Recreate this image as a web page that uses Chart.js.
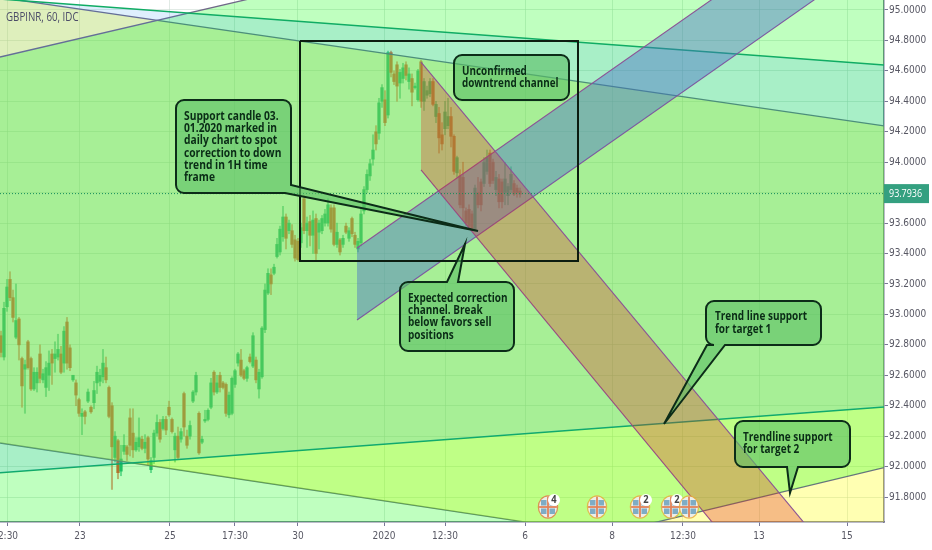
<!DOCTYPE html>
<html>
<head>
<meta charset="utf-8">
<title>GBPINR, 60, IDC</title>
<script src="https://cdn.jsdelivr.net/npm/chart.js@4"></script>
<style>
html, body { margin: 0; padding: 0; background: #fff; }
canvas { display: block; }
</style>
</head>
<body>
<canvas id="myChart" width="932" height="550"></canvas>
<script>
// hourly candles
const opens = [92.86,92.72,93.05,93.23,93.11,92.85,92.97,92.71,92.64,92.82,92.71,92.51,92.55,92.74,92.57,92.52,92.60,92.74,92.71,92.72,
  92.74,92.68,92.95,92.78,92.57,92.55,92.44,92.33,92.36,92.43,92.39,92.42,92.55,92.56,92.59,92.65,92.52,92.40,92.06,92.17,
  91.97,92.10,92.13,92.32,92.22,92.11,92.13,92.18,92.12,92.19,91.98,92.06,92.22,92.29,92.25,92.31,92.39,92.31,92.11,92.20,
  92.18,92.48,92.20,92.20,92.43,92.49,92.35,92.16,92.30,92.31,92.39,92.62,92.49,92.60,92.55,92.54,92.34,92.35,92.54,92.68,
  92.70,92.63,92.58,92.72,92.66,92.70,92.51,92.59,92.90,93.14,93.26,93.27,93.38,93.41,93.51,93.64,93.55,93.55,93.49,93.48,
  93.47,93.76,93.55,93.61,93.52,93.63,93.54,93.55,93.60,93.60,93.70,93.70,93.46,93.49,93.46,93.58,93.50,93.63,93.52,93.43,
  93.47,93.68,93.82,93.91,94.02,94.20,94.19,94.40,94.41,94.31,94.72,94.58,94.64,94.52,94.55,94.64,94.53,94.55,94.49,94.41,
  94.66,94.40,94.44,94.45,94.53,94.30,94.32,94.18,94.22,94.24,94.30,94.17,93.93,93.91,93.90,93.68,93.69,93.66,93.56,93.80,
  93.87,93.86,93.94,94.06,94.00,93.82,93.89,93.87,93.80,93.78,93.82,93.86,93.83,93.81];
const highs = [92.89,93.08,93.23,93.28,93.16,93.20,92.98,92.72,92.70,92.83,92.72,92.65,92.65,92.80,92.64,92.69,92.76,92.77,92.82,92.87,
  92.79,92.92,92.98,92.80,92.60,92.57,92.45,92.38,92.37,92.51,92.40,92.56,92.66,92.64,92.77,92.72,92.53,92.42,92.23,92.18,
  92.14,92.21,92.14,92.38,92.38,92.19,92.32,92.20,92.21,92.20,92.06,92.24,92.34,92.31,92.33,92.33,92.43,92.32,92.22,92.26,
  92.25,92.49,92.24,92.30,92.50,92.62,92.36,92.20,92.37,92.38,92.58,92.63,92.60,92.62,92.56,92.55,92.49,92.59,92.64,92.75,
  92.77,92.64,92.66,92.74,92.88,92.72,92.64,92.92,93.20,93.30,93.30,93.33,93.50,93.58,93.71,93.66,93.62,93.59,93.52,93.50,
  93.60,93.78,93.64,93.65,93.68,93.66,93.62,93.65,93.69,93.76,93.72,93.72,93.60,93.50,93.52,93.60,93.57,93.64,93.54,93.50,
  93.70,93.84,93.95,94.02,94.18,94.24,94.42,94.51,94.47,94.73,94.73,94.60,94.66,94.61,94.65,94.66,94.62,94.58,94.52,94.61,
  94.67,94.55,94.50,94.55,94.55,94.40,94.36,94.26,94.40,94.42,94.36,94.18,94.04,93.95,94.00,93.70,93.72,93.68,93.85,93.90,
  93.89,94.03,94.08,94.08,94.02,93.94,93.92,93.89,94.00,93.86,93.97,93.88,93.85,93.83];
const lows = [92.72,92.70,93.02,93.09,92.95,92.84,92.70,92.39,92.35,92.64,92.50,92.50,92.49,92.55,92.55,92.46,92.50,92.54,92.62,92.70,
  92.61,92.62,92.64,92.63,92.56,92.40,92.33,92.21,92.28,92.42,92.35,92.38,92.48,92.53,92.55,92.55,92.32,91.85,92.03,91.92,
  91.94,92.08,92.04,92.07,92.06,92.10,92.10,92.11,92.09,92.01,91.96,92.02,92.20,92.16,92.24,92.21,92.33,92.22,92.03,92.05,
  92.16,92.20,92.12,92.18,92.42,92.47,92.08,92.15,92.29,92.30,92.38,92.47,92.48,92.49,92.51,92.33,92.32,92.34,92.52,92.66,
  92.59,92.57,92.56,92.68,92.65,92.55,92.45,92.58,92.88,93.13,93.13,93.26,93.37,93.39,93.48,93.43,93.53,93.44,93.35,93.35,
  93.44,93.53,93.44,93.45,93.40,93.36,93.43,93.53,93.58,93.58,93.54,93.45,93.44,93.39,93.44,93.53,93.48,93.51,93.44,93.41,
  93.45,93.66,93.80,93.88,93.98,94.08,94.15,94.36,94.24,94.29,94.56,94.51,94.40,94.42,94.52,94.54,94.48,94.37,94.48,94.40,
  94.36,94.34,94.42,94.43,94.37,94.26,94.06,94.08,94.18,94.22,94.10,93.92,93.90,93.70,93.62,93.58,93.56,93.55,93.55,93.70,
  93.68,93.84,93.92,93.84,93.86,93.78,93.70,93.70,93.72,93.72,93.80,93.78,93.77,93.77];
const closes = [92.75,93.04,93.18,93.11,92.98,92.96,92.80,92.53,92.67,92.65,92.51,92.62,92.62,92.58,92.61,92.65,92.68,92.68,92.74,92.77,
  92.62,92.89,92.68,92.65,92.60,92.47,92.35,92.35,92.33,92.49,92.36,92.50,92.62,92.60,92.68,92.57,92.33,92.13,92.20,91.96,
  92.05,92.14,92.08,92.14,92.11,92.16,92.19,92.12,92.16,92.05,92.04,92.22,92.29,92.18,92.31,92.24,92.34,92.23,92.20,92.06,
  92.23,92.26,92.14,92.27,92.49,92.60,92.09,92.18,92.31,92.37,92.55,92.49,92.55,92.52,92.52,92.35,92.47,92.58,92.63,92.74,
  92.60,92.58,92.65,92.69,92.86,92.57,92.62,92.91,93.16,93.27,93.20,93.31,93.46,93.56,93.64,93.50,93.60,93.46,93.37,93.36,
  93.57,93.55,93.60,93.52,93.62,93.40,93.60,93.63,93.66,93.72,93.56,93.46,93.54,93.41,93.50,93.54,93.55,93.53,93.46,93.48,
  93.66,93.82,93.92,93.99,94.08,94.12,94.39,94.49,94.26,94.72,94.59,94.53,94.50,94.59,94.62,94.57,94.58,94.46,94.50,94.60,
  94.40,94.53,94.47,94.53,94.38,94.38,94.16,94.12,94.33,94.30,94.17,93.94,94.03,93.72,93.70,93.60,93.58,93.57,93.83,93.72,
  93.72,94.00,94.03,93.86,93.88,93.90,93.74,93.74,93.89,93.84,93.92,93.79,93.80,93.79];

// axis ticks
const priceTicks = [91.8,92,92.2,92.4,92.6,92.8,93,93.2,93.4,93.6,93.8,94,94.2,94.4,94.6,94.8,95];
const timeTickPos = [2.33,26.33,56.33,78,99,127.67,148,174.67,203.67,227.33,252.67,282];
const timeTickLabels = ['2:30','23','25','17:30','30','2020','12:30','6','8','12:30','13','15'];

// drawn trend lines and channels, [[x,price],[x,price]]
const xLeft = -0.33, xRight = 294.33, yTop = 95.0657, yBottom = 91.6360;
const fallUpper = [[xLeft,95.082],[xRight,94.238]];
const fallLower = [[xLeft,92.155],[xRight,91.281]];
const wedgeUpper = [[xLeft,95.072],[xRight,94.639]];
const wedgeLower = [[xLeft,91.960],[xRight,92.392]];
const riseUpper = [[xLeft,94.691],[xRight,96.045]];
const riseLower = [[xLeft,90.600],[xRight,91.994]];
const corrUpper = [[118.67,93.436],[xRight,95.861]];
const corrLower = [[118.67,92.963],[xRight,95.388]];
const downUpper = [[140,94.658],[xRight,90.999]];
const downLower = [[140,93.949],[xRight,90.269]];
const boxLine = [[99.67,94.796],[192.33,94.796],[192.33,93.351],[99.67,93.351],[99.67,94.796]];
const lastPrice = 93.7936;
const priceLine = [[xLeft,lastPrice],[xRight,lastPrice]];

const toXY = pts => pts.map(p => ({x: p[0], y: p[1]}));
const idx = closes.map((c, i) => i);
const upCol = 'rgb(40,172,130)', downCol = 'rgb(235,70,60)';
const barCols = closes.map((c, i) => c >= opens[i] ? upCol : downCol);

function channel(pts, lineCol, width, fillCol, ord) {
  return {type: 'line', data: toXY(pts), borderColor: lineCol, borderWidth: width, pointRadius: 0,
    tension: 0, fill: fillCol ? '+1' : false, backgroundColor: fillCol || 'transparent', order: ord};
}

const greyLine = 'rgb(112,104,136)', greenLine = 'rgb(16,172,100)', purpleLine = 'rgb(140,84,150)';

const datasets = [
  {type: 'line', data: toXY(boxLine), borderColor: '#0c1c10', borderWidth: 2, pointRadius: 0, fill: false, order: 1},
  channel(priceLine, 'rgb(20,140,90)', 1, null, 2),
  channel(downUpper, purpleLine, 1.1, 'rgba(225,40,30,0.3)', 3),
  channel(downLower, purpleLine, 1.1, null, 3),
  channel(corrUpper, purpleLine, 1.1, 'rgba(70,110,200,0.43)', 4),
  channel(corrLower, purpleLine, 1.1, null, 4),
  channel(wedgeUpper, greenLine, 1.5, 'rgba(33,150,243,0.15)', 5),
  channel(wedgeLower, greenLine, 1.5, null, 5),
  channel(riseUpper, greyLine, 1.3, 'rgba(0,255,0,0.25)', 6),
  channel(riseLower, greyLine, 1.3, null, 6),
  channel(fallUpper, greyLine, 1.3, 'rgba(255,255,0,0.3)', 7),
  channel(fallLower, greyLine, 1.3, null, 7),
  {type: 'bar', data: idx.map(i => ({x: i, y: [Math.min(opens[i], closes[i]), Math.max(opens[i], closes[i])]})),
    backgroundColor: barCols, barThickness: 2.6, grouped: false, order: 8},
  {type: 'bar', data: idx.map(i => ({x: i, y: [lows[i], highs[i]]})),
    backgroundColor: barCols.map(c => c.replace('rgb', 'rgba').replace(')', ',0.55)')), barThickness: 1.4, grouped: false, order: 9}
];
datasets[1].borderDash = [1, 2];

// callouts, in canvas pixels
const notes = [
  {box: [176,100,291,193], tail: [[291,185],[478,231],[285,193]], side: 'corner', x: 184, y: 120, lh: 12.2, sx: 0.82,
    lines: ['Support candle 03.','01.2020 marked in','daily chart to spot','correction to down','trend in 1H time','frame']},
  {box: [454,55,569,100], x: 462, y: 75, lh: 12.4, sx: 0.79, lines: ['Unconfirmed','downtrend channel']},
  {box: [400,282,514,351], tail: [[447,282],[465,244],[458,282]], side: 'top', x: 408, y: 302, lh: 12.2, sx: 0.8,
    lines: ['Expected correction','channel. Break','below favors sell','positions']},
  {box: [706,301,821,345], tail: [[707,345],[664,424],[725,345]], side: 'bottom', x: 715, y: 320, lh: 12.6, sx: 0.8,
    lines: ['Trend line support','for target 1']},
  {box: [735,421,850,467], tail: [[787,467],[790,493],[798,467]], side: 'bottom', x: 743, y: 441, lh: 12.4, sx: 0.8,
    lines: ['Trendline support','for target 2']}
];
const flags = [
  {x: 548, y: 507, ring: 'rgba(226,120,70,0.8)', badge: '4'},
  {x: 597, y: 507, ring: 'rgba(232,170,60,0.8)'},
  {x: 640, y: 507, ring: 'rgba(232,170,60,0.8)', badge: '2'},
  {x: 671, y: 507, ring: 'rgba(232,170,60,0.8)', badge: '2'},
  {x: 689, y: 507, ring: 'rgba(232,170,60,0.8)'}
];

function notePath(c, n) {
  const [l, t, r, b] = n.box, k = 8, tl = n.tail;
  c.beginPath();
  c.moveTo(l + k, t);
  if (n.side === 'top') { c.lineTo(tl[0][0], t); c.lineTo(tl[1][0], tl[1][1]); c.lineTo(tl[2][0], t); }
  c.arcTo(r, t, r, b, k);
  if (n.side === 'corner') {
    c.lineTo(tl[0][0], tl[0][1]); c.lineTo(tl[1][0], tl[1][1]); c.lineTo(tl[2][0], tl[2][1]);
  } else {
    c.arcTo(r, b, l, b, k);
    if (n.side === 'bottom') { c.lineTo(tl[2][0], b); c.lineTo(tl[1][0], tl[1][1]); c.lineTo(tl[0][0], b); }
  }
  c.arcTo(l, b, l, t, k);
  c.arcTo(l, t, r, t, k);
  c.closePath();
}

// the reference font is narrow, squeeze the text sideways
function narrowText(c, s, x, y, sx) {
  c.save();
  c.translate(x, y);
  c.scale(sx, 1);
  c.fillText(s, 0, 0);
  c.restore();
}

function drawFlag(c, f) {
  c.save();
  c.beginPath();
  c.ellipse(f.x, f.y, 9, 10.5, 0, 0, Math.PI * 2);
  c.lineWidth = 2.5;
  c.strokeStyle = f.ring;
  c.stroke();
  c.clip();
  c.fillStyle = 'rgb(236,238,232)';
  c.fillRect(f.x - 10, f.y - 11, 20, 22);
  c.fillStyle = 'rgba(90,150,185,0.75)';
  [[-7,-7],[1.5,-7],[-7,1.5],[1.5,1.5]].forEach(q => c.fillRect(f.x + q[0], f.y + q[1], 5.5, 5.5));
  c.fillStyle = 'rgba(225,130,90,0.9)';
  c.fillRect(f.x - 10, f.y - 1, 20, 2);
  c.fillRect(f.x - 1, f.y - 11, 2, 22);
  c.restore();
  if (f.badge) {
    c.beginPath();
    c.arc(f.x + 6, f.y - 7, 6, 0, Math.PI * 2);
    c.fillStyle = '#fff';
    c.fill();
    c.fillStyle = '#444';
    c.font = 'bold 11px "Open Sans"';
    c.textAlign = 'center';
    c.textBaseline = 'middle';
    narrowText(c, f.badge, f.x + 6, f.y - 7, 0.85);
  }
}

const overlay = {
  id: 'overlay',
  afterDraw(chart) {
    const c = chart.ctx;
    c.save();
    flags.forEach(f => drawFlag(c, f));
    notes.forEach(n => {
      notePath(c, n);
      c.fillStyle = 'rgba(90,190,100,0.6)';
      c.fill();
      c.lineWidth = 2;
      c.strokeStyle = '#0c2c18';
      c.stroke();
      c.fillStyle = '#0a2c16';
      c.font = 'bold 12.5px "Open Sans"';
      c.textAlign = 'left';
      c.textBaseline = 'alphabetic';
      n.lines.forEach((s, i) => narrowText(c, s, n.x, n.y + i * n.lh, n.sx));
    });
    // title and last price tag
    c.fillStyle = 'rgb(76,76,104)';
    c.font = '12.5px "Open Sans"';
    narrowText(c, 'GBPINR, 60, IDC', 6, 21, 0.78);
    const py = chart.scales.y.getPixelForValue(lastPrice);
    c.fillStyle = 'rgb(52,160,128)';
    c.fillRect(884, py - 9.5, 45, 19);
    c.fillStyle = '#fff';
    c.font = '11.5px "Open Sans"';
    c.textBaseline = 'middle';
    narrowText(c, lastPrice.toFixed(4), 889, py + 0.5, 0.78);
    c.restore();
  }
};

function noPad(width, height) {
  return s => {
    if (width) s.width = width;
    if (height) s.height = height;
    s.paddingLeft = s.paddingRight = s.paddingTop = s.paddingBottom = 0;
  };
}

const gridCol = 'rgba(196,214,204,0.5)', axisCol = 'rgb(120,120,150)', labelCol = 'rgb(88,88,100)';
const axisFont = {family: '"DejaVu Sans Condensed", "DejaVu Sans"', size: 10};

new Chart(document.getElementById('myChart').getContext('2d'), {
  type: 'bar',
  data: {datasets: datasets},
  plugins: [overlay],
  options: {
    responsive: false,
    animation: false,
    layout: {padding: 0},
    plugins: {legend: {display: false}, tooltip: {enabled: false}},
    scales: {
      x: {
        type: 'linear', min: xLeft, max: xRight, offset: false,
        afterBuildTicks: s => { s.ticks = timeTickPos.map(v => ({value: v})); },
        afterFit: noPad(0, 28),
        grid: {color: gridCol, tickColor: axisCol, tickLength: 4, offset: false},
        border: {color: axisCol, width: 1.5},
        ticks: {
          autoSkip: false, maxRotation: 0, padding: 4, color: labelCol, font: axisFont,
          callback: (v, i) => timeTickLabels[i]
        }
      },
      y: {
        position: 'right', min: yBottom, max: yTop,
        afterBuildTicks: s => { s.ticks = priceTicks.map(v => ({value: v})); },
        afterFit: noPad(48, 0),
        grid: {color: gridCol, tickColor: axisCol, tickLength: 4},
        border: {color: axisCol, width: 1.5},
        ticks: {
          padding: 1, color: labelCol, font: axisFont,
          callback: v => v.toFixed(4)
        }
      }
    }
  }
});
</script>
</body>
</html>
